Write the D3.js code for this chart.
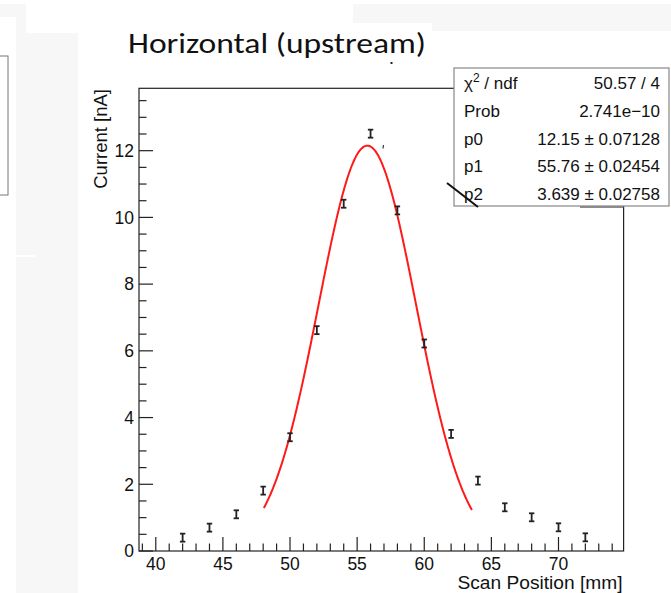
<!DOCTYPE html>
<html><head><meta charset="utf-8">
<script src="https://cdn.jsdelivr.net/npm/d3@7"></script>
<style>html,body{margin:0;padding:0;background:#fff;}svg{display:block;}</style>
</head><body>
<svg id="c" width="671" height="593"></svg>
<script>
// ---- data ----
const positions = [42,44,46,48,50,52,54,56,58,60,62,64,66,68,70,72];
const currents  = [0.40,0.70,1.10,1.81,3.41,6.62,10.41,12.51,10.21,6.22,3.51,2.11,1.31,1.01,0.71,0.41];
const errors    = [0.12,0.12,0.12,0.12,0.12,0.12,0.12,0.12,0.12,0.12,0.12,0.12,0.12,0.12,0.12,0.12];
const fitParams = [12.15, 55.76, 3.639];
const fitRange  = [48.05, 63.55];
const xTicks = [40,45,50,55,60,65,70];
const yTicks = [0,2,4,6,8,10,12];
const statLabels = ["χ2 / ndf","Prob","p0","p1","p2"];
const statValues = ["50.57 / 4","2.741e\u221210","12.15 \u00b1 0.07128","55.76 \u00b1 0.02454","3.639 \u00b1 0.02758"];

const svg = d3.select("#c");
const FONT = "'Liberation Sans', Arial, Helvetica, sans-serif";

// ---- slide background pieces ----
const bg = "#f7f7f7";
[[0,4,26,13],[16,17,10,16],[16,33,62,560],[353,4,318,19],[432,22,239,9]].forEach(r=>{
  svg.append("rect").attr("x",r[0]).attr("y",r[1]).attr("width",r[2]).attr("height",r[3]).attr("fill",bg);
});
svg.append("rect").attr("x",16).attr("y",255).attr("width",19).attr("height",2).attr("fill","#fff");
svg.append("rect").attr("x",-5).attr("y",56).attr("width",13).attr("height",139)
  .attr("fill","#fff").attr("stroke","#777").attr("stroke-width",1);

// ---- scales ----
const L=139, R=623.6, T=88.3, B=551;
const x = d3.scaleLinear().domain([38.75,74.85]).range([L,R]);
const y = d3.scaleLinear().domain([0,13.87]).range([B,T]);

// ---- title ----
svg.append("text").attr("x",128).attr("y",53)
  .attr("font-family","Carlito, Calibri, 'Open Sans', Lato, sans-serif").attr("font-size",28)
  .attr("textLength",298).attr("lengthAdjust","spacingAndGlyphs")
  .attr("fill","#111").text("Horizontal (upstream)");

// ---- frame ----
svg.append("rect").attr("x",L).attr("y",T).attr("width",R-L).attr("height",B-T)
  .attr("fill","none").attr("stroke","#222").attr("stroke-width",1.2);

// ---- x axis ticks ----
const xMinor = d3.range(39,75,1);
const gx = svg.append("g");
xMinor.forEach(v=>{
  const major = xTicks.includes(v);
  gx.append("line").attr("x1",x(v)).attr("x2",x(v)).attr("y1",B).attr("y2",B-(major?14:7.5))
    .attr("stroke","#222").attr("stroke-width",1.2);
});
xTicks.forEach(v=>{
  gx.append("text").attr("x",x(v)).attr("y",570).attr("text-anchor","middle")
    .attr("font-family",FONT).attr("font-size",17.5).attr("fill","#111").text(v);
});
svg.append("text").attr("x",622.5).attr("y",588.5).attr("text-anchor","end")
  .attr("font-family",FONT).attr("font-size",17.5)
  .attr("textLength",165).attr("lengthAdjust","spacingAndGlyphs")
  .attr("fill","#111").text("Scan Position [mm]");

// ---- y axis ticks ----
const yMinor = d3.range(0,13.87,0.5);
const gy = svg.append("g");
yMinor.forEach(v=>{
  const major = yTicks.includes(v);
  gy.append("line").attr("x1",L).attr("x2",L+(major?14:7.5)).attr("y1",y(v)).attr("y2",y(v))
    .attr("stroke","#222").attr("stroke-width",1.2);
});
yTicks.forEach(v=>{
  gy.append("text").attr("x",134).attr("y",y(v)+6.3).attr("text-anchor","end")
    .attr("font-family",FONT).attr("font-size",17.5).attr("fill","#111").text(v);
});
svg.append("text").attr("transform","translate(107,89) rotate(-90)").attr("text-anchor","end")
  .attr("font-family",FONT).attr("font-size",18.5).attr("fill","#111").text("Current [nA]");

// ---- fit curve ----
const gauss = t => fitParams[0]*Math.exp(-0.5*Math.pow((t-fitParams[1])/fitParams[2],2));
const fx = d3.range(fitRange[0], fitRange[1]+0.001, 0.05);
svg.append("path").datum(fx)
  .attr("d", d3.line().x(t=>x(t)).y(t=>y(gauss(t))).curve(d3.curveLinear))
  .attr("fill","none").attr("stroke","#ff1a1a").attr("stroke-width",2);

// ---- data points with error bars ----
const gp = svg.append("g").attr("stroke","#222").attr("stroke-width",1.8);
positions.forEach((p,i)=>{
  const cx = x(p), y1 = y(currents[i]-errors[i]), y2 = y(currents[i]+errors[i]);
  gp.append("line").attr("x1",cx).attr("x2",cx).attr("y1",y1).attr("y2",y2);
  gp.append("line").attr("x1",cx-2.7).attr("x2",cx+2.7).attr("y1",y1).attr("y2",y1);
  gp.append("line").attr("x1",cx-2.7).attr("x2",cx+2.7).attr("y1",y2).attr("y2",y2);
});

// ---- stray marks ----
svg.append("line").attr("x1",383.5).attr("y1",145).attr("x2",383).attr("y2",148.5)
  .attr("stroke","#333").attr("stroke-width",1.2);
svg.append("rect").attr("x",390.5).attr("y",62).attr("width",2).attr("height",2).attr("fill","#222");

// ---- stats box ----
svg.append("line").attr("x1",580).attr("x2",623.6).attr("y1",207).attr("y2",207)
  .attr("stroke","#666").attr("stroke-width",1.5);
svg.append("rect").attr("x",454).attr("y",68).attr("width",215).attr("height",138)
  .attr("fill","#fff").attr("stroke","#888").attr("stroke-width",1.2);
const rowY = [83,111,138.5,166,193.5];
statLabels.forEach((s,i)=>{
  const t = svg.append("text").attr("x",464).attr("y",rowY[i]+6)
    .attr("font-family",FONT).attr("font-size",17).attr("fill","#111");
  if(i===0){
    t.append("tspan").text("χ");
    t.append("tspan").attr("dy",-7).attr("font-size",12).text("2");
    t.append("tspan").attr("dy",7).text(" / ndf");
  } else t.text(s);
  svg.append("text").attr("x",660).attr("y",rowY[i]+6).attr("text-anchor","end")
    .attr("font-family",FONT).attr("font-size",17).attr("fill","#111").text(statValues[i]);
});
// diagonal stroke near p2
svg.append("line").attr("x1",447).attr("y1",183).attr("x2",478).attr("y2",207)
  .attr("stroke","#111").attr("stroke-width",2);
</script>
</body></html>
